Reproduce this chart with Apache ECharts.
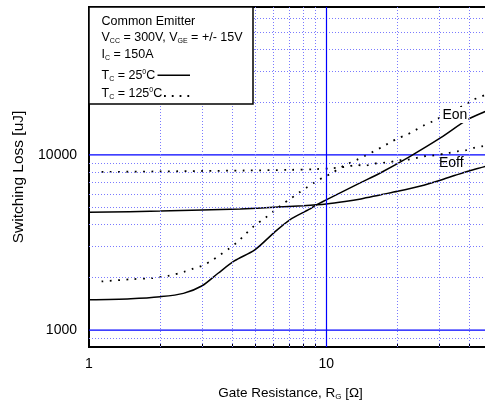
<!DOCTYPE html>
<html>
<head>
<meta charset="utf-8">
<script src="https://cdn.jsdelivr.net/npm/echarts@6/dist/echarts.min.js"></script>
<style>
html,body{margin:0;padding:0;background:#fff;}
#chart{width:485px;height:407px;}
</style>
</head>
<body>
<div id="chart"></div>
<script>
// ---- data ----
const rEon25  = [1, 1.5, 2, 2.5, 3, 3.5, 4.1, 5, 6, 7, 8.5, 9, 10, 13.9, 16.9, 22.6, 30.3, 39.4, 46.9, 50];
const eon25   = [1490, 1510, 1550, 1620, 1790, 2110, 2480, 2870, 3580, 4250, 4900, 5150, 5540, 6920, 7890, 9820, 12500, 15900, 17740, 18500];

const rEoff25 = [1, 2, 3, 4.34, 6, 8, 10, 12, 14, 17, 20, 25, 30, 35, 40, 47, 50];
const eoff25  = [4700, 4780, 4850, 4920, 5020, 5130, 5250, 5420, 5610, 5930, 6200, 6650, 7150, 7650, 8100, 8610, 8850];

const rEon125  = [1.13, 1.5, 1.84, 2.16, 2.54, 2.75, 3, 3.3, 3.57, 3.87, 4.2, 4.55, 4.94, 5.53, 6, 6.5, 7.05, 7.65, 8.3, 9, 9.73, 10.6, 11.4, 12.4, 13.5, 14.6, 15.9, 17.2, 18.6, 20.2, 21.9, 23.7, 25.7, 27.9, 38.6, 41.8, 45.3, 50];
const eon125   = [1895, 1950, 1980, 2040, 2160, 2240, 2330, 2500, 2690, 2900, 3160, 3510, 3910, 4370, 4770, 5200, 5610, 6070, 6530, 7020, 7450, 7890, 8430, 8920, 9400, 9900, 10500, 11100, 11800, 12500, 13070, 13830, 14700, 15490, 19400, 20700, 21600, 23000];

const rEoff125 = [1.13, 2, 3, 4.5, 7, 9, 10.6, 12, 13.5, 14.6, 15.9, 17.2, 18.6, 20.2, 21.9, 23.7, 25.7, 27.9, 32.9, 35.7, 38.6, 41.8, 45.3, 50];
const eoff125  = [8000, 8050, 8100, 8150, 8220, 8300, 8400, 8550, 8750, 8700, 8920, 9000, 9100, 9320, 9400, 9570, 9820, 9910, 10270, 10480, 10620, 10960, 11200, 11500];

const xRange = [1, 50];
const xMajorGrid = [10];
const xMinorGrid = [2, 3, 4, 5, 6, 7, 8, 9, 20, 30, 40];
const yMajorGrid = [1000, 10000];
const yMinorGrid = [900, 2000, 3000, 4000, 5000, 6000, 7000, 8000, 9000, 20000, 30000, 40000, 50000, 60000];
const xTickLabels = [1, 10];
const yTickLabels = [1000, 10000];

const curveLabels = ['Eon', 'Eoff'];
const legendLines = ['Common Emitter', 'V{s|CC} = 300V, V{s|GE} = +/- 15V', 'I{s|C} = 150A', 'T{s|C} = 25{p|0}C', 'T{s|C} = 125{p|0}C'];

// ---- chart ----
const FONT = 'Liberation Sans, Arial, Helvetica, sans-serif';
const zip = (xs, ys) => xs.map((x, i) => [x, ys[i]]);
const chart = echarts.init(document.getElementById('chart'), null, {renderer: 'canvas'});

const minorStyle = {color: '#7a7aff', width: 1, type: [1, 2]};
const majorStyle = {color: '#0000ff', width: 1.2, type: 'solid'};
const gridMarks = []
  .concat(xMinorGrid.map(v => ({xAxis: v, lineStyle: minorStyle})))
  .concat(yMinorGrid.map(v => ({yAxis: v, lineStyle: minorStyle})))
  .concat(xMajorGrid.map(v => ({xAxis: v, lineStyle: majorStyle})));

// major horizontal grid lines drawn as plain line series across the x range
const majorHSeries = yMajorGrid.map(v => ({
  type: 'line', data: xRange.map(x => [x, v]), showSymbol: false, silent: true, z: 2,
  lineStyle: {color: '#0000ff', width: 1.2, type: 'solid'}
}));

const subRich = {
  s: {fontSize: 7, fontFamily: FONT, color: '#000', verticalAlign: 'bottom', lineHeight: 14},
  p: {fontSize: 7, fontFamily: FONT, color: '#000', verticalAlign: 'top', lineHeight: 14}
};

const solidCurve = {color: '#000', width: 1.5, type: 'solid'};
const dotCurve = {color: '#000', width: 1.8, type: [1.8, 6.5]};

const legendY = [21.5, 38, 55, 75.8, 94];

const option = {
  backgroundColor: '#fff',
  animation: false,
  color: ['#0000ff'],
  grid: {left: 89, top: 7, right: -7, bottom: 60, show: true, borderColor: '#000', borderWidth: 2, backgroundColor: 'transparent', containLabel: false, outerBoundsMode: 'none'},
  xAxis: {
    type: 'log', logBase: 10, min: 1, max: 50,
    axisLine: {onZero: false, lineStyle: {color: '#000', width: 2}},
    axisTick: {show: true, inside: true, length: 3, customValues: xMinorGrid, lineStyle: {color: '#000', width: 1}},
    axisLabel: {
      fontSize: 14, fontFamily: FONT, color: '#000', margin: 10,
      formatter: v => (xTickLabels.indexOf(Math.round(v)) >= 0 && Math.abs(v - Math.round(v)) < 1e-6) ? String(Math.round(v)) : ''
    },
    splitLine: {show: false},
    minorSplitLine: {show: false},
    name: 'Gate Resistance, R{s|G} [Ω]',
    nameLocation: 'middle', nameGap: 38,
    nameTextStyle: {fontSize: 13.5, fontFamily: FONT, color: '#000', rich: {s: {fontSize: 8, fontFamily: FONT, color: '#000', verticalAlign: 'bottom', lineHeight: 16}}}
  },
  yAxis: {
    type: 'log', logBase: 10, min: 800, max: 70000,
    axisLine: {show: true, onZero: false, lineStyle: {color: '#000', width: 2}},
    axisTick: {show: false},
    axisLabel: {
      fontSize: 14, fontFamily: FONT, color: '#000', margin: 12,
      formatter: v => (yTickLabels.indexOf(Math.round(v)) >= 0) ? String(Math.round(v)) : ''
    },
    splitLine: {show: false},
    minorSplitLine: {show: false},
    name: 'Switching Loss [uJ]',
    nameLocation: 'middle', nameGap: 62,
    nameTextStyle: {fontSize: 15.5, fontFamily: FONT, color: '#000'}
  },
  series: [
    {type: 'line', data: [], z: 1, silent: true,
     markLine: {silent: true, symbol: ['none', 'none'], label: {show: false}, data: gridMarks, animation: false}},
    ...majorHSeries,
    {name: 'Eon 25', type: 'line', data: zip(rEon25, eon25), showSymbol: false, smooth: 0.3, lineStyle: solidCurve, z: 3},
    {name: 'Eoff 25', type: 'line', data: zip(rEoff25, eoff25), showSymbol: false, smooth: 0.3, lineStyle: solidCurve, z: 3},
    {name: 'Eon 125', type: 'line', data: zip(rEon125, eon125), showSymbol: false, smooth: 0.3, lineStyle: dotCurve, z: 3},
    {name: 'Eoff 125', type: 'line', data: zip(rEoff125, eoff125), showSymbol: false, smooth: 0.3, lineStyle: dotCurve, z: 3}
  ],
  graphic: {elements: [
    {type: 'rect', z: 100, shape: {x: 89, y: 7, width: 164, height: 97},
     style: {fill: '#fff', stroke: '#000', lineWidth: 1.5}},
    ...legendLines.map((t, i) => ({
      type: 'text', z: 101, x: 101.5, y: legendY[i],
      style: {text: t, font: '12.5px ' + FONT, fill: '#000', verticalAlign: 'middle', align: 'left', rich: subRich}
    })),
    {type: 'line', z: 101, shape: {x1: 157.5, y1: 75.3, x2: 190, y2: 75.3}, style: {stroke: '#000', lineWidth: 1.5}},
    {type: 'line', z: 101, shape: {x1: 164, y1: 96, x2: 190, y2: 96}, style: {stroke: '#000', lineWidth: 1.8, lineDash: [1.8, 6]}},
    {type: 'text', z: 101, x: 441.5, y: 115,
     style: {text: curveLabels[0], font: '14px ' + FONT, fill: '#000', verticalAlign: 'middle', align: 'left', backgroundColor: '#fff', padding: [1, 1]}},
    {type: 'text', z: 101, x: 439, y: 163,
     style: {text: curveLabels[1], font: '14px ' + FONT, fill: '#000', verticalAlign: 'middle', align: 'left'}}
  ]}
};
chart.setOption(option);
</script>
</body>
</html>
